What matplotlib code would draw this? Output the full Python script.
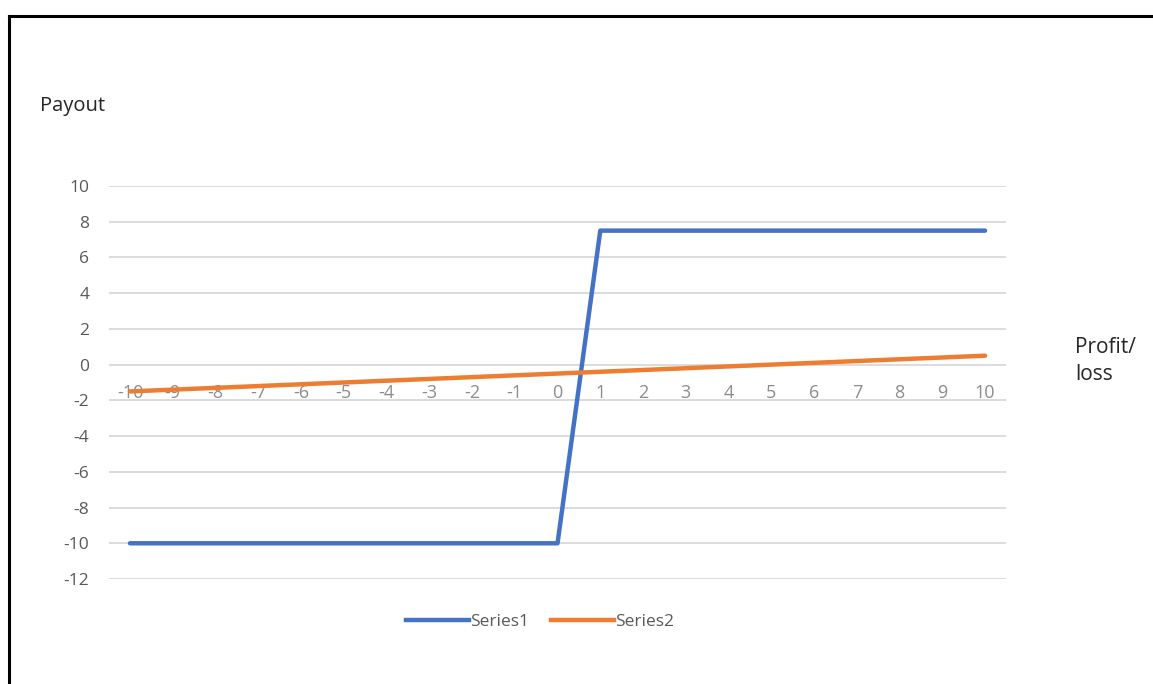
import matplotlib
matplotlib.use("Agg")
import matplotlib.pyplot as plt
from matplotlib.lines import Line2D

# Dane wykresu
categories = list(range(-10, 11))
series1 = [-10] * 11 + [7.5] * 10
series2 = [-1.5, -1.4, -1.3, -1.2, -1.1, -1.0, -0.9, -0.8, -0.7, -0.6, -0.5,
           -0.4, -0.3, -0.2, -0.1, 0.0, 0.1, 0.2, 0.3, 0.4, 0.5]
y_ticks = [10, 8, 6, 4, 2, 0, -2, -4, -6, -8, -10, -12]

plt.rcParams['font.family'] = ['Open Sans', 'DejaVu Sans']
plt.rcParams['axes.unicode_minus'] = False

fig = plt.figure(figsize=(11.53, 6.84), dpi=100)
ax = fig.add_axes([0.0942, 0.1535, 0.7787, 0.5746])

pos = list(range(len(categories)))
ax.plot(pos, series1, color="#4472C4", lw=3.2, solid_capstyle="round", label="Series1", zorder=3)
ax.plot(pos, series2, color="#ED7D31", lw=3.2, solid_capstyle="round", label="Series2", zorder=3)

ax.set_xlim(-0.5, len(categories) - 0.5)
ax.set_ylim(-12, 10)
ax.set_yticks(y_ticks)
ax.yaxis.grid(True, color="#d9d9d9", lw=1.3)
ax.set_axisbelow(True)

for s in ax.spines.values():
    s.set_visible(False)
ax.spines['bottom'].set_position(('data', 0))

ax.set_xticks(pos)
ax.set_xticklabels([str(c) for c in categories])
ax.tick_params(axis='x', length=0, pad=14, labelsize=13, labelcolor="#8c8c8c")
ax.tick_params(axis='y', length=0, pad=14, labelsize=12.5, labelcolor="#595959")

fig.text(40 / 1153, 1 - 106 / 684, "Payout", fontsize=14.5, color="#262626", va="center", ha="left")
fig.text(1075 / 1153, 1 - 361 / 684, "Profit/\nloss", fontsize=15, color="#262626",
         va="center", ha="left", linespacing=1.4)

handles = [Line2D([0], [0], color="#4472C4", lw=3.2),
           Line2D([0], [0], color="#ED7D31", lw=3.2)]
fig.legend(handles, ["Series1", "Series2"], loc="center", bbox_to_anchor=(540 / 1153, 1 - 622 / 684),
           ncol=2, frameon=False, fontsize=12.5, handlelength=3.6, handletextpad=0.05,
           columnspacing=1.3, labelcolor="#595959")

# Ramka
fig.add_artist(Line2D([9 / 1153, 9 / 1153], [0, 1 - 16 / 684], color="black", lw=2.2))
fig.add_artist(Line2D([9 / 1153, 1], [1 - 16 / 684, 1 - 16 / 684], color="black", lw=2.2))

fig.savefig("out.png", dpi=100, facecolor="white")
